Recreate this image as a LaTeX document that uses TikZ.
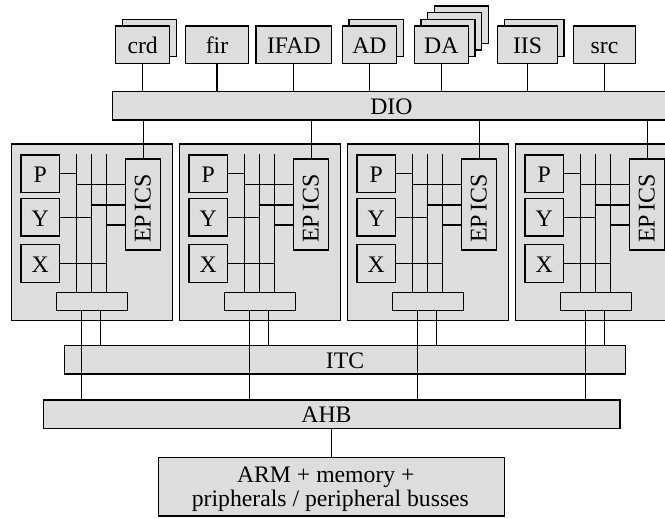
\documentclass[tikz,border=0pt]{standalone}
\usepackage{fontspec}
\setmainfont{Liberation Serif}
\definecolor{boxfill}{RGB}{221,221,221}
\begin{document}
\begin{tikzpicture}[x=1pt,y=-1pt,
  box/.style={draw, fill=boxfill, line width=1.3pt, inner sep=0pt, outer sep=0pt,
    font=\fontsize{23.7}{28}\selectfont, text height=18pt, text depth=0pt},
  conn/.style={line width=1.15pt},
  txt/.style={inner sep=0pt, outer sep=0pt, font=\fontsize{23.7}{28}\selectfont}]
\useasboundingbox (0,0) rectangle (665,519);
\clip (0,0) rectangle (665,519);
% stacked back boxes
\node[box, minimum width=54, minimum height=37.5] (crdB) at (149.4,38.05) {};
\node[box, minimum width=54.4, minimum height=37.5] (adB) at (376.2,38.05) {};
\node[box, minimum width=54, minimum height=37.5] (daB3) at (461.4,24.65) {};
\node[box, minimum width=54, minimum height=37.5] (daB2) at (454.7,31.35) {};
\node[box, minimum width=54, minimum height=37.5] (daB1) at (448,38.05) {};
\node[box, minimum width=59.6, minimum height=37.5] (iisB) at (534.2,38.05) {};
% front boxes
\node[box, minimum width=54, minimum height=37.5] (crd) at (142.7,44.75) {crd};
\node[box, minimum width=62.6, minimum height=37.5] (fir) at (217,44.75) {fir};
\node[box, minimum width=75.7, minimum height=37.5] (ifad) at (293.85,44.75) {IFAD};
\node[box, minimum width=54.4, minimum height=37.5] (ad) at (369.5,44.75) {AD};
\node[box, minimum width=54, minimum height=37.5] (da) at (441.3,44.75) {DA};
\node[box, minimum width=59.6, minimum height=37.5] (iis) at (527.5,44.75) {IIS};
\node[box, minimum width=62.4, minimum height=37.5] (src) at (604.5,44.75) {src};
% buses
\node[box, minimum width=557.3, minimum height=28.3] (dio) at (391.35,105.85) {DIO};
\node[box, minimum width=561, minimum height=28.3] (itc) at (345,359.85) {ITC};
\node[box, minimum width=576.3, minimum height=28.3] (ahb) at (331.85,414.15) {};
\node[txt, anchor=base] (ahbt) at (326.5,422.7) {AHB};
\node[box, minimum width=346, minimum height=58.7] (arm) at (331.3,486.65) {};
\node[txt, anchor=base] (arml1) at (325.8,482.7) {ARM + memory +};
\node[txt, anchor=base] (arml2) at (330.4,506.5) {pripherals / peripheral busses};
% top connectors
\foreach \n in {crd,fir,ifad,ad,da,iis,src}
  \draw[conn] (\n.south) -- (\n.south |- dio.north);
\draw[conn] (arm.north) -- (arm.north |- ahb.south);
% DSP groups
\foreach \i in {0,1,2,3} {
  \pgfmathsetmacro\xo{21+168*\i}
  \node[box, minimum width=161, minimum height=176.7] (dsp\i) at (\xo+71,232.35) {};
  \node[box, minimum width=38.5, minimum height=37.7] (P\i) at (\xo+19.25,173.85) {P};
  \node[box, minimum width=38.5, minimum height=37.7] (Y\i) at (\xo+19.25,217.15) {Y};
  \node[box, minimum width=38.5, minimum height=38] (X\i) at (\xo+19.25,263.15) {X};
  \node[box, minimum width=35, minimum height=91] (ep\i) at (\xo+122.2,204.5) {};
  \node[txt, rotate=90, font=\fontsize{24}{28}\selectfont, text height=15.5pt, text depth=0pt]
    (ept\i) at (\xo+121.8,208.7) {EP\kern3pt ICS};
  \node[box, minimum width=70.8, minimum height=11] (bar\i) at (\xo+71.2,301.2) {};
  \coordinate (v1\i) at (\xo+55.8,154.3);
  \coordinate (v2\i) at (\xo+70.6,154.3);
  \coordinate (v3\i) at (\xo+85.5,154.3);
  \coordinate (e1\i) at (\xo+55.8,184.3);
  \coordinate (e2\i) at (\xo+70.6,205);
  \coordinate (e3\i) at (\xo+85.5,225);
  \coordinate (d1\i) at (\xo+60.3,0);
  \coordinate (d2\i) at (\xo+79.3,0);
  \draw[conn] (v1\i) -- (v1\i |- bar\i.north);
  \draw[conn] (v2\i) -- (v2\i |- bar\i.north);
  \draw[conn] (v3\i) -- (v3\i |- bar\i.north);
  \draw[conn] (P\i.east) -- (P\i.east -| v1\i);
  \draw[conn] (Y\i.east) -- (Y\i.east -| v2\i);
  \draw[conn] (X\i.east) -- (X\i.east -| v3\i);
  \draw[conn] (e1\i) -- (e1\i -| ep\i.west);
  \draw[conn] (e2\i) -- (e2\i -| ep\i.west);
  \draw[conn] (e3\i) -- (e3\i -| ep\i.west);
  \draw[conn] (ep\i.north) -- (ep\i.north |- dio.south);
  \draw[conn] (bar\i.south -| d1\i) -- (ahb.north -| d1\i);
  \draw[conn] (bar\i.south -| d2\i) -- (itc.north -| d2\i);
}
\end{tikzpicture}
\end{document}
